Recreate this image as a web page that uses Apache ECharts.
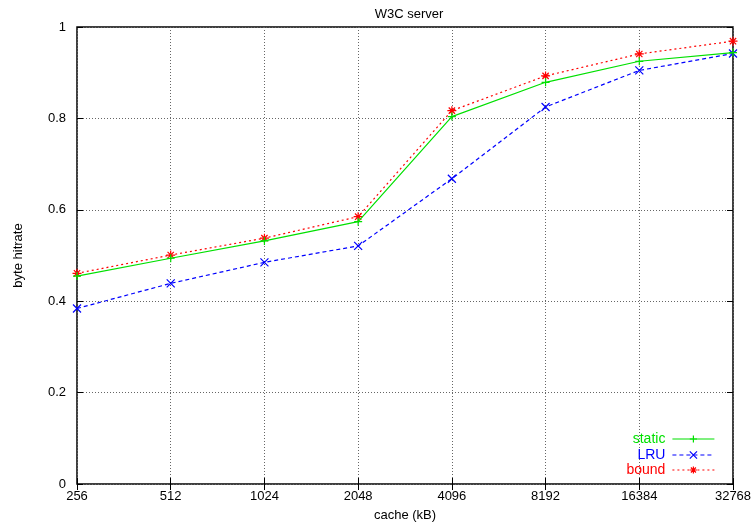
<!DOCTYPE html>
<html>
<head>
<meta charset="utf-8">
<script src="https://cdn.jsdelivr.net/npm/echarts@6/dist/echarts.min.js"></script>
<style>
  html, body { margin: 0; padding: 0; background: #fff; }
  #chart { width: 752px; height: 525px; }
</style>
</head>
<body>
<div id="chart"></div>
<script>
// cache sizes in kB (log2 x axis)
const cacheSizes = [256, 512, 1024, 2048, 4096, 8192, 16384, 32768];
const staticHit = [0.455, 0.494, 0.532, 0.574, 0.804, 0.879, 0.925, 0.944];
const lruHit = [0.384, 0.439, 0.485, 0.521, 0.668, 0.825, 0.905, 0.942];
const boundHit = [0.461, 0.501, 0.538, 0.585, 0.817, 0.893, 0.941, 0.969];

const font = "Liberation Sans";
const green = "#00e000";
const blue = "#0000ff";
const red = "#ff0000";

const plusPath = "path://M0,5L10,5M5,0L5,10";
const crossPath = "path://M0,0L10,10M0,10L10,0";
const starPath = "path://M0,5L10,5M5,0L5,10M1.5,1.5L8.5,8.5M1.5,8.5L8.5,1.5";

const pairs = (ys) => cacheSizes.map((x, i) => [x, ys[i]]);

const chart = echarts.init(document.getElementById("chart"));

const gridLine = { show: true, lineStyle: { color: "#666", type: [1, 2], width: 1 } };

const mkLegend = (name, color, top) => ({
  orient: "vertical",
  right: 37,
  top: top,
  align: "right",
  itemWidth: 42,
  itemHeight: 9,
  itemGap: 0,
  data: [{ name: name, textStyle: { color: color } }],
  textStyle: { fontFamily: font, fontSize: 14, padding: [0, 2, 0, 0] },
  lineStyle: { width: 1.2 },
  itemStyle: { borderWidth: 1.2 },
  padding: 0,
});

const option = {
  animation: false,
  backgroundColor: "#fff",
  title: {
    text: "W3C server",
    left: 404,
    top: 3,
    textAlign: "center",
    textStyle: { fontFamily: font, fontSize: 13, fontWeight: "normal", color: "#000" },
  },
  legend: [
    mkLegend("static", green, 432),
    mkLegend("LRU", blue, 448),
    mkLegend("bound", red, 463),
  ],
  grid: {
    left: 77,
    right: 19,
    top: 27,
    bottom: 41,
    outerBoundsMode: "none",
    show: true,
    borderColor: "#000",
    borderWidth: 1.5,
  },
  xAxis: [
    {
      type: "log",
      logBase: 2,
      min: 256,
      max: 32768,
      name: "cache (kB)",
      nameLocation: "middle",
      nameGap: 25,
      nameTextStyle: { fontFamily: font, fontSize: 13, color: "#000" },
      axisLine: { show: false },
      axisTick: { show: true, inside: true, length: 6, lineStyle: { color: "#000" } },
      axisLabel: {
        fontFamily: font,
        fontSize: 13,
        color: "#000",
        margin: 6,
        formatter: (v) => String(Math.round(v)),
      },
      splitLine: gridLine,
      minorTick: { show: false },
    },
    {
      type: "log",
      logBase: 2,
      min: 256,
      max: 32768,
      position: "top",
      axisLine: { show: false },
      axisTick: { show: true, inside: true, length: 6, lineStyle: { color: "#000" } },
      axisLabel: { show: false },
      splitLine: { show: false },
    },
  ],
  yAxis: [
    {
      type: "value",
      min: 0,
      max: 1,
      interval: 0.2,
      name: "byte hitrate",
      nameLocation: "middle",
      nameGap: 52,
      nameTextStyle: { fontFamily: font, fontSize: 13, color: "#000" },
      axisLine: { show: false },
      axisTick: { show: true, inside: true, length: 6, lineStyle: { color: "#000" } },
      axisLabel: { fontFamily: font, fontSize: 13, color: "#000", margin: 11 },
      splitLine: gridLine,
    },
    {
      type: "value",
      min: 0,
      max: 1,
      interval: 0.2,
      position: "right",
      axisLine: { show: false },
      axisTick: { show: true, inside: true, length: 6, lineStyle: { color: "#000" } },
      axisLabel: { show: false },
      splitLine: { show: false },
    },
  ],
  series: [
    {
      name: "static",
      type: "line",
      data: pairs(staticHit),
      symbol: plusPath,
      symbolSize: 8,
      lineStyle: { color: green, width: 1.2, type: "solid" },
      itemStyle: { color: green, borderColor: green, borderWidth: 1.2 },
      z: 3,
    },
    {
      name: "LRU",
      type: "line",
      data: pairs(lruHit),
      symbol: crossPath,
      symbolSize: 8,
      lineStyle: { color: blue, width: 1.2, type: [4, 3] },
      itemStyle: { color: blue, borderColor: blue, borderWidth: 1.2 },
      z: 2,
    },
    {
      name: "bound",
      type: "line",
      data: pairs(boundHit),
      symbol: starPath,
      symbolSize: 9,
      lineStyle: { color: red, width: 1.2, type: [2, 3] },
      itemStyle: { color: red, borderColor: red, borderWidth: 1.2 },
      z: 1,
    },
  ],
};

chart.setOption(option);
</script>
</body>
</html>
